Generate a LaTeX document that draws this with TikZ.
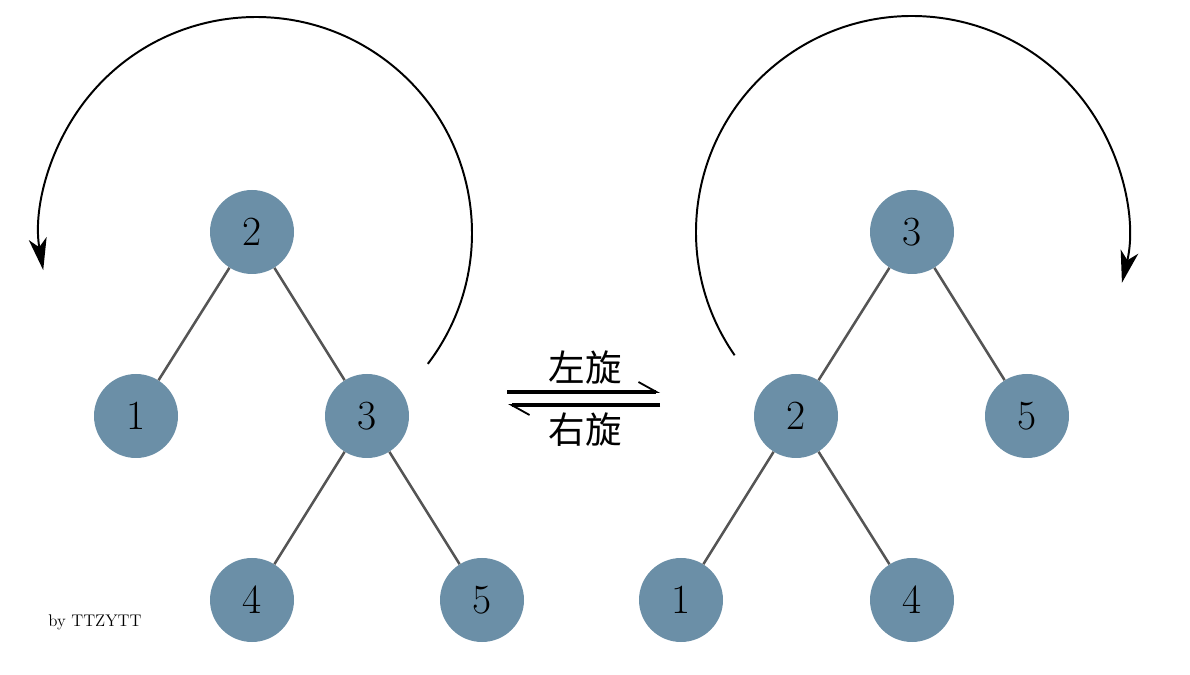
\documentclass[tikz,border=0pt]{standalone}
\usepackage{fontspec}
\newfontfamily\cjk{Noto Sans CJK SC}
\usetikzlibrary{arrows.meta, positioning}
\definecolor{avlNode}{HTML}{6B8FA7}
\definecolor{avlEdge}{HTML}{555555}
\tikzset{
  treenode/.style = {circle, fill=avlNode, minimum size=2.1cm, inner sep=0pt,
                     font=\fontsize{29.5}{34}\selectfont},
  edgeline/.style = {avlEdge, line width=1.8pt},
  rotarrow/.style = {-{Stealth[length=0.8cm, width=0.45cm, inset=0.22cm]},
                     line width=1.4pt, black},
  harp/.style     = {-{Straight Barb[harpoon, length=0.45cm, width=0.5cm,
                     line width=1.3pt]}, line width=2.4pt, black},
  cjklbl/.style   = {font=\cjk\fontsize{26}{30}\selectfont},
  signlbl/.style  = {font=\fontsize{12}{14}\selectfont},
}

\begin{document}
\begin{tikzpicture}
  \useasboundingbox (0,0) rectangle (29.75,16.85);

  % tree before the rotation
  \node[treenode] (l2) at (6.3,11.05)   {2};
  \node[treenode] (l1) at (3.4,6.45)    {1};
  \node[treenode] (l3) at (9.175,6.45)  {3};
  \node[treenode] (l4) at (6.3,1.85)    {4};
  \node[treenode] (l5) at (12.05,1.85)  {5};
  \draw[edgeline] (l2) -- (l1);
  \draw[edgeline] (l2) -- (l3);
  \draw[edgeline] (l3) -- (l4);
  \draw[edgeline] (l3) -- (l5);

  % tree after the rotation
  \node[treenode] (r3) at (22.8,11.05)   {3};
  \node[treenode] (r2) at (19.9,6.45)    {2};
  \node[treenode] (r5) at (25.675,6.45)  {5};
  \node[treenode] (r1) at (17.025,1.85)  {1};
  \node[treenode] (r4) at (22.8,1.85)    {4};
  \draw[edgeline] (r3) -- (r2);
  \draw[edgeline] (r3) -- (r5);
  \draw[edgeline] (r2) -- (r1);
  \draw[edgeline] (r2) -- (r4);

  % rotation arcs
  \coordinate (lpivot) at (6.4,11.025);
  \coordinate (rpivot) at (22.8,11.05);
  \draw[rotarrow] ([shift={(-37.3:5.4)}]lpivot)
    arc[start angle=-37.3, end angle=189.9, radius=5.4];
  \draw[rotarrow] ([shift={(214.8:5.4)}]rpivot)
    arc[start angle=214.8, end angle=-13.6, radius=5.4];

  % harpoons between the trees
  \coordinate (hl1) at (12.675,7.05);
  \coordinate (hr1) at (16.5,7.05);
  \coordinate (hr2) at (16.5,6.725);
  \coordinate (hl2) at (12.7,6.725);
  \draw[harp] (hl1) -- (hr1);
  \draw[harp] (hr2) -- (hl2);
  \node[cjklbl] (rotl) at (14.625,7.65) {左旋};
  \node[cjklbl] (rotr) at (14.625,6.1)  {右旋};

  \node[signlbl] (sign) at (2.375,1.3) {by TTZYTT};
\end{tikzpicture}
\end{document}
